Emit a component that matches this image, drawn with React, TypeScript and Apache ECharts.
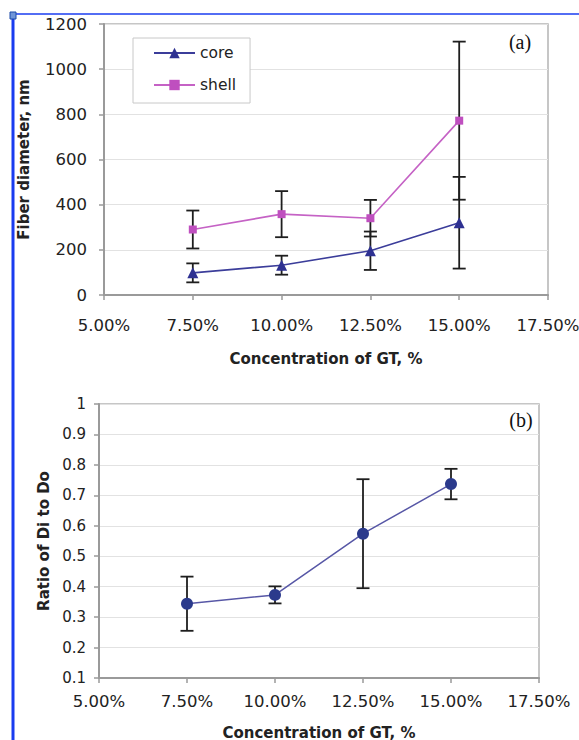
import React, { useEffect, useRef } from "react";
import * as echarts from "echarts";

// ---- data ----
const concentrations = [7.5, 10, 12.5, 15]; // % GT
const xTickMin = 5;
const xTickMax = 17.5;
const xTickStep = 2.5;

const coreMean = [98, 132, 196, 320];
const coreErr = [42, 42, 85, 203];
const shellMean = [290, 358, 340, 772];
const shellErr = [84, 102, 81, 350];

const ratioMean = [0.344, 0.373, 0.574, 0.737];
const ratioErr = [0.089, 0.028, 0.179, 0.05];

const yTopMin = 0;
const yTopMax = 1200;
const yTopStep = 200;
const yBotMin = 0.1;
const yBotMax = 1;
const yBotStep = 0.1;

const FONT = "DejaVu Sans";
const TXT = "#222";

function pairs(xs: number[], ys: number[]) {
  return xs.map((x, i) => [x, ys[i]]);
}
function errData(xs: number[], m: number[], e: number[]) {
  return xs.map((x, i) => [x, m[i] - e[i], m[i] + e[i]]);
}

const errRender = (params: any, api: any) => {
  const x = api.value(0);
  const lo = api.coord([x, api.value(1)]);
  const hi = api.coord([x, api.value(2)]);
  const hw = 6.5;
  const style = { stroke: "#1e1e1e", lineWidth: 1.8 };
  return {
    type: "group",
    children: [
      { type: "line", shape: { x1: lo[0], y1: lo[1], x2: hi[0], y2: hi[1] }, style },
      { type: "line", shape: { x1: hi[0] - hw, y1: hi[1], x2: hi[0] + hw, y2: hi[1] }, style },
      { type: "line", shape: { x1: lo[0] - hw, y1: lo[1], x2: lo[0] + hw, y2: lo[1] }, style },
    ],
  };
};

const titleStyle = { fontFamily: FONT, fontWeight: "bold", fontSize: 15, color: TXT };

function xAxisCfg(gridIndex: number, labelMargin: number, nameGap: number) {
  return {
    type: "value",
    gridIndex,
    min: xTickMin,
    max: xTickMax,
    interval: xTickStep,
    name: "Concentration of GT, %",
    nameLocation: "middle",
    nameGap,
    nameTextStyle: titleStyle,
    axisLine: { show: true, onZero: false, lineStyle: { color: "#9a9a9a", width: 2 } },
    axisTick: { show: true, inside: false, length: 5, lineStyle: { color: "#9a9a9a", width: 1.5 } },
    axisLabel: {
      margin: labelMargin,
      fontFamily: FONT,
      fontSize: 16.5,
      color: TXT,
      formatter: (v: number) => v.toFixed(2) + "%",
    },
    splitLine: { show: false },
  };
}

export default function App() {
  const ref = useRef<HTMLDivElement>(null);
  useEffect(() => {
    if (!ref.current) return;
    const chart = echarts.init(ref.current, undefined, { renderer: "svg" });
    const option: any = {
      animation: false,
      backgroundColor: "#ffffff",
      grid: [
        {
          left: 104, top: 24, width: 444, height: 271,
          show: true, borderColor: "#b4b4b4", borderWidth: 1.5,
          containLabel: false, outerBoundsMode: "none",
        },
        {
          left: 99, top: 404, width: 440, height: 274,
          show: true, borderColor: "#b4b4b4", borderWidth: 1.5,
          containLabel: false, outerBoundsMode: "none",
        },
      ],
      legend: {
        data: ["core", "shell"],
        orient: "vertical",
        left: 133,
        top: 38,
        itemWidth: 41,
        itemHeight: 13,
        itemGap: 16,
        padding: [7, 14, 10, 20],
        borderColor: "#c8c8c8",
        borderWidth: 1,
        backgroundColor: "#fff",
        textStyle: { fontFamily: FONT, fontSize: 15.5, color: TXT },
      },
      xAxis: [xAxisCfg(0, 22, 56), xAxisCfg(1, 15, 47)],
      yAxis: [
        {
          type: "value",
          gridIndex: 0,
          min: yTopMin,
          max: yTopMax,
          interval: yTopStep,
          name: "Fiber diameter, nm",
          nameLocation: "middle",
          nameGap: 73,
          nameTextStyle: titleStyle,
          axisLine: { show: true, lineStyle: { color: "#9a9a9a", width: 2 } },
          axisTick: { show: true, inside: false, length: 5, lineStyle: { color: "#9a9a9a", width: 1.5 } },
          axisLabel: {
            margin: 17,
            fontFamily: FONT,
            fontSize: 16.5,
            color: TXT,
            formatter: (v: number) => String(v),
          },
          splitLine: { show: true, lineStyle: { color: "#e2e2e2", width: 1 } },
        },
        {
          type: "value",
          gridIndex: 1,
          min: yBotMin,
          max: yBotMax,
          interval: yBotStep,
          name: "Ratio of Di to Do",
          nameLocation: "middle",
          nameGap: 48,
          nameTextStyle: titleStyle,
          axisLine: { show: true, lineStyle: { color: "#9a9a9a", width: 2 } },
          axisTick: { show: true, inside: false, length: 5, lineStyle: { color: "#9a9a9a", width: 1.5 } },
          axisLabel: {
            margin: 13,
            fontFamily: FONT,
            fontSize: 15,
            color: TXT,
            formatter: (v: number) => String(Math.round(v * 10) / 10),
          },
          splitLine: { show: true, lineStyle: { color: "#e2e2e2", width: 1 } },
        },
      ],
      series: [
        {
          type: "custom",
          name: "coreErr",
          xAxisIndex: 0,
          yAxisIndex: 0,
          renderItem: errRender,
          data: errData(concentrations, coreMean, coreErr),
          z: 1,
          silent: true,
        },
        {
          type: "custom",
          name: "shellErr",
          xAxisIndex: 0,
          yAxisIndex: 0,
          renderItem: errRender,
          data: errData(concentrations, shellMean, shellErr),
          z: 1,
          silent: true,
        },
        {
          type: "line",
          name: "core",
          xAxisIndex: 0,
          yAxisIndex: 0,
          data: pairs(concentrations, coreMean),
          symbol: "triangle",
          symbolSize: 11,
          itemStyle: { color: "#2e3192" },
          lineStyle: { color: "#3b3d9a", width: 1.6 },
          z: 3,
        },
        {
          type: "line",
          name: "shell",
          xAxisIndex: 0,
          yAxisIndex: 0,
          data: pairs(concentrations, shellMean),
          symbol: "rect",
          symbolSize: 8,
          itemStyle: { color: "#bf4fbf" },
          lineStyle: { color: "#c562c5", width: 1.6 },
          z: 3,
        },
        {
          type: "custom",
          name: "ratioErr",
          xAxisIndex: 1,
          yAxisIndex: 1,
          renderItem: errRender,
          data: errData(concentrations, ratioMean, ratioErr),
          z: 1,
          silent: true,
        },
        {
          type: "line",
          name: "ratio",
          xAxisIndex: 1,
          yAxisIndex: 1,
          data: pairs(concentrations, ratioMean),
          symbol: "circle",
          symbolSize: 12,
          itemStyle: { color: "#2b3a8c" },
          lineStyle: { color: "#5757a6", width: 1.5 },
          z: 3,
        },
      ],
      graphic: [
        { type: "line", shape: { x1: 13, y1: 14, x2: 13, y2: 740 }, style: { stroke: "#1a3cf0", lineWidth: 3 }, z: 100 },
        { type: "line", shape: { x1: 13, y1: 14, x2: 579, y2: 14 }, style: { stroke: "#1a3cf0", lineWidth: 1.5 }, z: 100 },
        { type: "rect", shape: { x: 10, y: 12, width: 6, height: 7 }, style: { fill: "#6f95d8", stroke: "#1d4aa8", lineWidth: 1 }, z: 101 },
        {
          type: "text",
          x: 520,
          y: 42,
          style: { text: "(a)", fontFamily: "Liberation Serif", fontSize: 20, fill: "#111", align: "center", verticalAlign: "middle" },
          z: 50,
        },
        {
          type: "text",
          x: 521,
          y: 420,
          style: { text: "(b)", fontFamily: "Liberation Serif", fontSize: 20, fill: "#111", align: "center", verticalAlign: "middle" },
          z: 50,
        },
      ],
    };
    chart.setOption(option);
    return () => chart.dispose();
  }, []);
  return (
    <div
      ref={ref}
      style={{ position: "absolute", left: 0, top: 0, width: 579, height: 740, background: "#fff" }}
    />
  );
}
